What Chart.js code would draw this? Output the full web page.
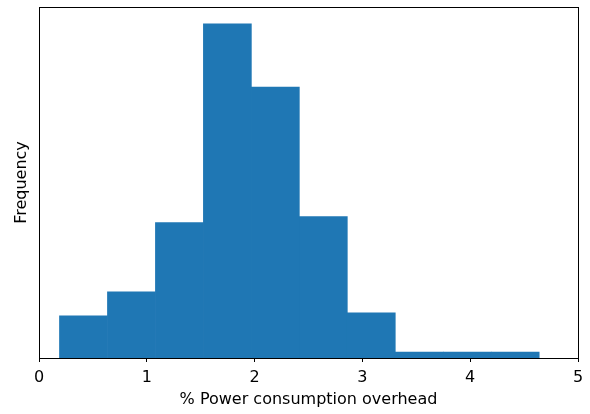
<!DOCTYPE html>
<html>
<head>
<meta charset="utf-8">
<script src="https://cdn.jsdelivr.net/npm/chart.js@4/dist/chart.umd.min.js"></script>
<style>
  html, body { margin: 0; padding: 0; background: #fff; }
  #wrap { width: 590px; height: 414px; }
</style>
</head>
<body>
<div id="wrap"><canvas id="c" width="590" height="414"></canvas></div>
<script>
// Histogram bin edges (% power consumption overhead)
const binEdges = [0.19, 0.635, 1.08, 1.525, 1.97, 2.415, 2.86, 3.305, 3.75, 4.195, 4.64];
// Frequency per bin
const frequencies = [14, 22, 45, 111, 90, 47, 15, 2, 2, 2];
// X-axis tick labels
const xTicks = [0, 1, 2, 3, 4, 5];

const points = frequencies.map((f, i) => ({ x: (binEdges[i] + binEdges[i + 1]) / 2, y: f }));
const yMax = Math.max(...frequencies) * 1.05;

const framePlugin = {
  id: 'frame',
  afterDraw(chart) {
    const { ctx, chartArea: a } = chart;
    ctx.save();
    ctx.strokeStyle = '#000';
    ctx.lineWidth = 1;
    ctx.strokeRect(Math.round(a.left) + 0.5, Math.round(a.top) + 0.5,
                   Math.round(a.right - a.left), Math.round(a.bottom - a.top));
    ctx.restore();
  }
};

Chart.defaults.font.family = '"DejaVu Sans", sans-serif';
Chart.defaults.color = '#000';

new Chart(document.getElementById('c'), {
  type: 'bar',
  data: {
    datasets: [{
      data: points,
      backgroundColor: '#1f77b4',
      borderWidth: 0,
      barPercentage: 1.0,
      categoryPercentage: 1.0
    }]
  },
  options: {
    responsive: false,
    animation: false,
    events: [],
    layout: { padding: { top: 7, right: 12, left: 0, bottom: 0 } },
    plugins: { legend: { display: false }, tooltip: { enabled: false } },
    scales: {
      x: {
        type: 'linear',
        min: 0, max: 5,
        offset: false,
        afterBuildTicks(scale) { scale.ticks = xTicks.map(v => ({ value: v })); },
        afterFit(scale) { scale.height = 56; },
        ticks: { font: { size: 16 }, padding: 6, maxRotation: 0, callback: v => String(v) },
        grid: { offset: false, drawOnChartArea: false, drawTicks: true, tickLength: 4, color: '#000' },
        border: { display: true, color: '#000' },
        title: { display: true, text: '% Power consumption overhead', font: { size: 16 }, padding: { top: 0, bottom: 5 } }
      },
      y: {
        min: 0, max: yMax,
        afterFit(scale) { scale.width = 39; },
        ticks: { display: false },
        grid: { display: false },
        border: { display: true, color: '#000' },
        title: { display: true, text: 'Frequency', font: { size: 16 }, padding: { top: 12, bottom: 0 } }
      }
    }
  },
  plugins: [framePlugin]
});
</script>
</body>
</html>
